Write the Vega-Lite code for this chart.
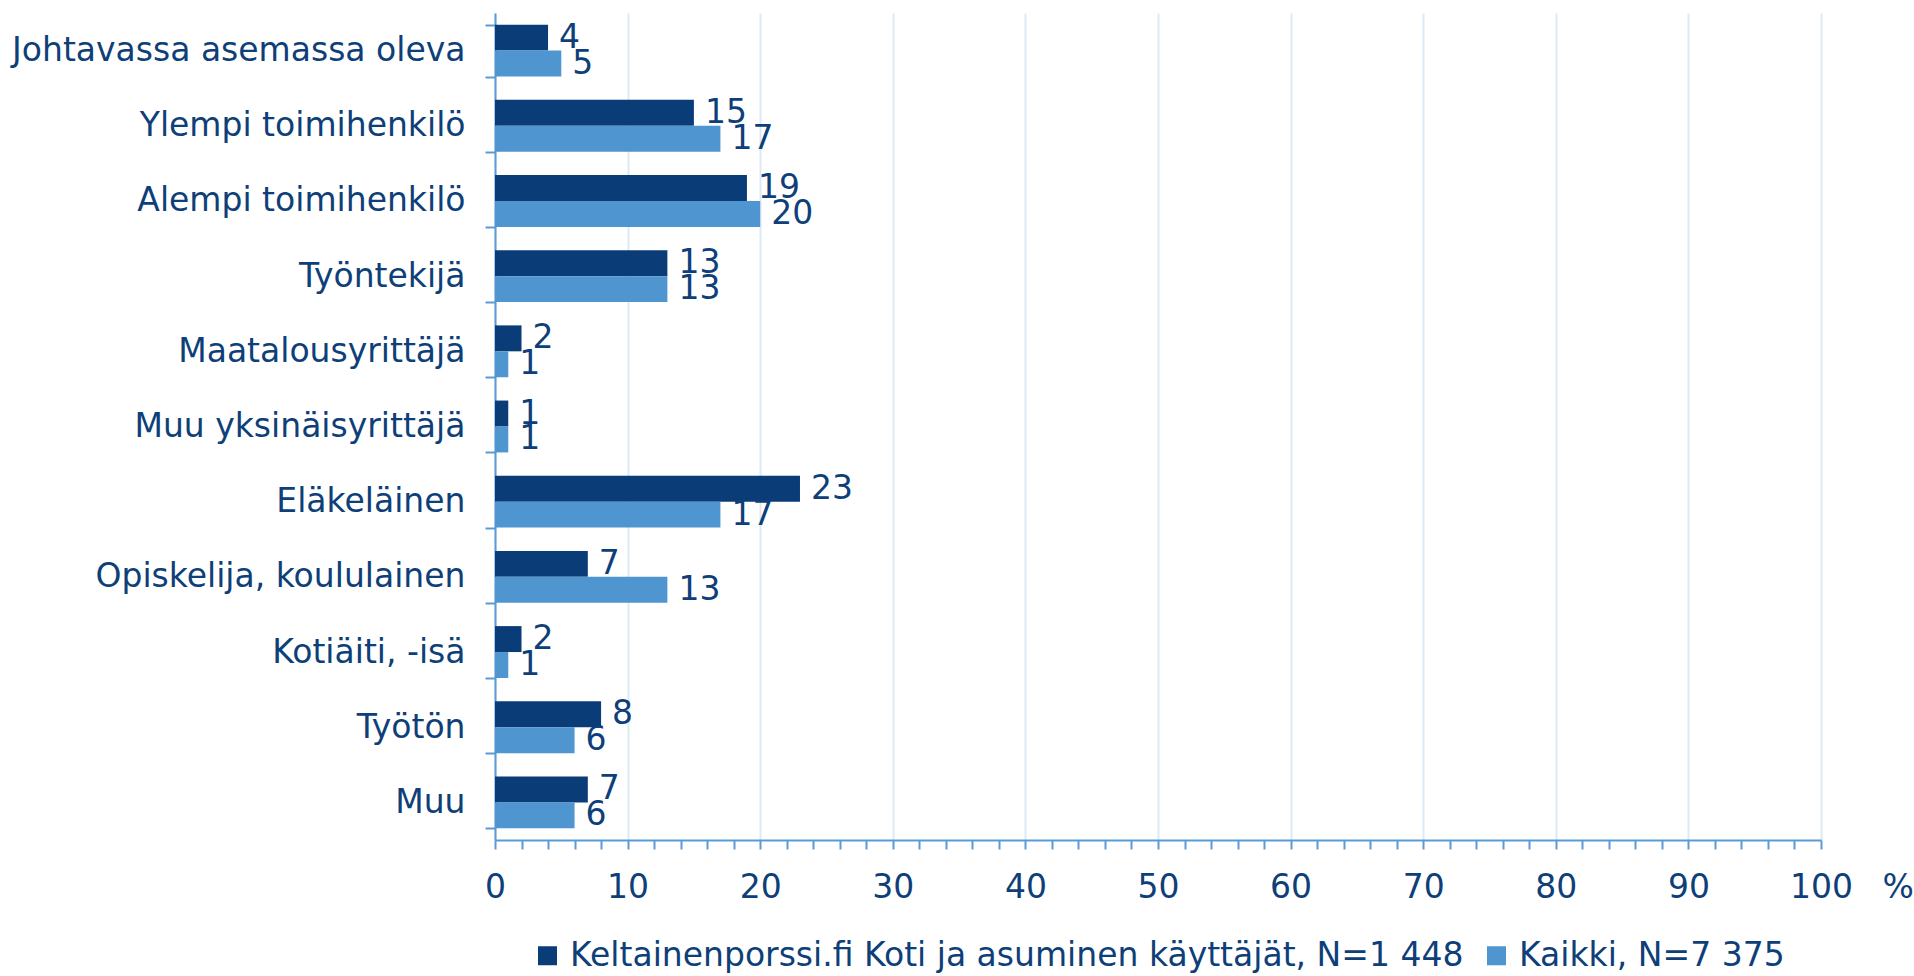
{
  "$schema": "https://vega.github.io/schema/vega-lite/v6.json",
  "autosize": "none",
  "padding": {"left": 495, "top": 13, "right": 93, "bottom": 136},
  "width": 1326,
  "height": 827,
  "background": "white",
  "config": {
    "font": "DejaVu Sans",
    "view": {"stroke": null},
    "axis": {"labelFont": "DejaVu Sans", "titleFont": "DejaVu Sans", "labelColor": "#0e3f78", "titleColor": "#0e3f78"}
  },
  "data": {
    "values": [
      {"cat": "Johtavassa asemassa oleva", "series": "Keltainenporssi.fi Koti ja asuminen käyttäjät, N=1 448", "value": 4},
      {"cat": "Johtavassa asemassa oleva", "series": "Kaikki, N=7 375", "value": 5},
      {"cat": "Ylempi toimihenkilö", "series": "Keltainenporssi.fi Koti ja asuminen käyttäjät, N=1 448", "value": 15},
      {"cat": "Ylempi toimihenkilö", "series": "Kaikki, N=7 375", "value": 17},
      {"cat": "Alempi toimihenkilö", "series": "Keltainenporssi.fi Koti ja asuminen käyttäjät, N=1 448", "value": 19},
      {"cat": "Alempi toimihenkilö", "series": "Kaikki, N=7 375", "value": 20},
      {"cat": "Työntekijä", "series": "Keltainenporssi.fi Koti ja asuminen käyttäjät, N=1 448", "value": 13},
      {"cat": "Työntekijä", "series": "Kaikki, N=7 375", "value": 13},
      {"cat": "Maatalousyrittäjä", "series": "Keltainenporssi.fi Koti ja asuminen käyttäjät, N=1 448", "value": 2},
      {"cat": "Maatalousyrittäjä", "series": "Kaikki, N=7 375", "value": 1},
      {"cat": "Muu yksinäisyrittäjä", "series": "Keltainenporssi.fi Koti ja asuminen käyttäjät, N=1 448", "value": 1},
      {"cat": "Muu yksinäisyrittäjä", "series": "Kaikki, N=7 375", "value": 1},
      {"cat": "Eläkeläinen", "series": "Keltainenporssi.fi Koti ja asuminen käyttäjät, N=1 448", "value": 23},
      {"cat": "Eläkeläinen", "series": "Kaikki, N=7 375", "value": 17},
      {"cat": "Opiskelija, koululainen", "series": "Keltainenporssi.fi Koti ja asuminen käyttäjät, N=1 448", "value": 7},
      {"cat": "Opiskelija, koululainen", "series": "Kaikki, N=7 375", "value": 13},
      {"cat": "Kotiäiti, -isä", "series": "Keltainenporssi.fi Koti ja asuminen käyttäjät, N=1 448", "value": 2},
      {"cat": "Kotiäiti, -isä", "series": "Kaikki, N=7 375", "value": 1},
      {"cat": "Työtön", "series": "Keltainenporssi.fi Koti ja asuminen käyttäjät, N=1 448", "value": 8},
      {"cat": "Työtön", "series": "Kaikki, N=7 375", "value": 6},
      {"cat": "Muu", "series": "Keltainenporssi.fi Koti ja asuminen käyttäjät, N=1 448", "value": 7},
      {"cat": "Muu", "series": "Kaikki, N=7 375", "value": 6}
    ]
  },
  "encoding": {
    "y": {
      "field": "cat", "type": "nominal", "sort": null,
      "scale": {"paddingInner": 0.31, "paddingOuter": 0.155},
      "axis": {
        "title": null, "tickBand": "extent", "tickSize": 10, "tickColor": "#5b9bd5", "tickWidth": 2,
        "domainColor": "#5b9bd5", "domainWidth": 2, "labelFontSize": 33, "labelPadding": 20,
        "labelLimit": 600, "grid": false
      }
    },
    "yOffset": {
      "field": "series", "type": "nominal", "sort": null,
      "scale": {"paddingInner": 0, "paddingOuter": 0}
    }
  },
  "layer": [
    {
      "mark": {"type": "bar"},
      "encoding": {
        "x": {
          "field": "value", "type": "quantitative",
          "scale": {"domain": [0, 100], "nice": false},
          "axis": {
            "values": [0,2,4,6,8,10,12,14,16,18,20,22,24,26,28,30,32,34,36,38,40,42,44,46,48,50,52,54,56,58,60,62,64,66,68,70,72,74,76,78,80,82,84,86,88,90,92,94,96,98,100],
            "tickCount": 200, "format": "d",
            "labelExpr": "datum.value % 10 === 0 ? datum.label : ''",
            "labelFontSize": 33, "labelBaseline": "alphabetic", "labelPadding": 48,
            "labelFlush": false, "labelOverlap": false,
            "tickSize": 9, "tickColor": "#5b9bd5", "tickWidth": 2,
            "domainColor": "#5b9bd5", "domainWidth": 2,
            "grid": true, "gridWidth": 2,
            "gridColor": {"condition": {"test": "datum.value % 10 === 0", "value": "#dce9f6"}, "value": "transparent"},
            "title": "%", "titleFontSize": 33, "titleFontWeight": "normal",
            "titleAnchor": null, "titleAlign": "left", "titleBaseline": "alphabetic",
            "titleX": 1387, "titleY": 57
          }
        },
        "color": {
          "field": "series", "type": "nominal", "sort": null,
          "scale": {"range": ["#0a3c77", "#4f95cf"]},
          "legend": {
            "title": null, "orient": "none", "direction": "horizontal",
            "legendX": 36, "legendY": 926,
            "symbolType": "square", "symbolSize": 361, "symbolStrokeWidth": 0,
            "labelFontSize": 33, "labelColor": "#0e3f78", "labelFont": "DejaVu Sans",
            "labelOffset": 6, "columnPadding": 16, "labelLimit": 1200
          }
        }
      }
    },
    {
      "mark": {"type": "text", "align": "left", "baseline": "middle", "dx": 11, "fontSize": 33, "color": "#0e3f78"},
      "encoding": {
        "x": {"field": "value", "type": "quantitative"},
        "text": {"field": "value", "type": "quantitative"}
      }
    }
  ]
}
